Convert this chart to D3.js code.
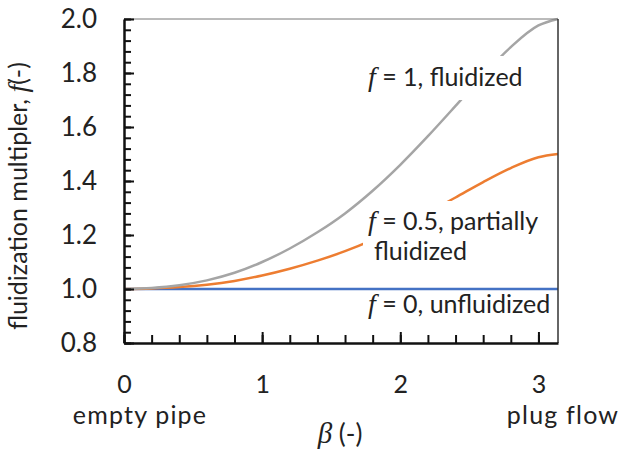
<!DOCTYPE html>
<html lang="en">
<head>
<meta charset="UTF-8">
<title>fluidization multiplier</title>
<script src="https://d3js.org/d3.v7.min.js"></script>
<style>
  body { margin: 0; background: #fff; }
  text { font-family: Lato, "Open Sans", sans-serif; fill: #222; }
</style>
</head>
<body>
<svg id="chart" width="619" height="451"></svg>
<script>
// values
const beta = [0, 0.2, 0.4, 0.6, 0.8, 1.0, 1.2, 1.4, 1.6, 1.8, 2.0, 2.2, 2.4, 2.6, 2.8, 3.0, 3.1416];
const fluidized = [1.0, 1.004, 1.014, 1.032, 1.060, 1.100, 1.150, 1.210, 1.280, 1.364, 1.460, 1.566, 1.678, 1.792, 1.896, 1.976, 2.0];
const partial = [1.0, 1.002, 1.007, 1.016, 1.030, 1.050, 1.075, 1.105, 1.140, 1.182, 1.230, 1.283, 1.339, 1.396, 1.448, 1.488, 1.5];
const unfluidized = [1, 1, 1, 1, 1, 1, 1, 1, 1, 1, 1, 1, 1, 1, 1, 1, 1];
const xTicks = [0, 1, 2, 3];
const yTicks = [0.8, 1.0, 1.2, 1.4, 1.6, 1.8, 2.0];

const svg = d3.select("#chart");
const plot = { left: 124, right: 558, top: 19, bottom: 343 };

const x = d3.scaleLinear().domain([0, Math.PI]).range([plot.left, plot.right]);
const y = d3.scaleLinear().domain([0.8, 2.0]).range([plot.bottom, plot.top]);

const line = v => d3.line()
    .x((d, i) => x(beta[i]))
    .y(d => y(d))
    .curve(d3.curveMonotoneX)(v);

// lines
svg.append("path").attr("d", line(unfluidized))
    .attr("fill", "none").attr("stroke", "#4472c4").attr("stroke-width", 2.5);
svg.append("path").attr("d", line(partial))
    .attr("fill", "none").attr("stroke", "#ed7d31").attr("stroke-width", 2.5);
svg.append("path").attr("d", line(fluidized))
    .attr("fill", "none").attr("stroke", "#a5a5a5").attr("stroke-width", 2.5);

// label boxes hide the lines under the text
svg.append("rect").attr("x", 362).attr("y", 56).attr("width", 168).attr("height", 44).attr("fill", "#fff");
svg.append("rect").attr("x", 363).attr("y", 201).attr("width", 186).attr("height", 72).attr("fill", "#fff");

function label(xp, yp, fText, rest) {
    const t = svg.append("text").attr("x", xp).attr("y", yp).style("font-size", "25px");
    if (fText) {
        t.append("tspan").text("f")
            .style("font-family", "'Liberation Serif', serif").style("font-style", "italic")
            .style("font-size", "28px");
    }
    t.append("tspan").text(rest);
}
label(368, 86, true, " = 1, fluidized");
label(368, 230, true, " = 0.5, partially");
label(374, 260, false, "fluidized");
label(368, 313, true, " = 0, unfluidized");

// frame
svg.append("line").attr("x1", plot.left).attr("x2", plot.right)
    .attr("y1", plot.top).attr("y2", plot.top)
    .attr("stroke", "#777").attr("stroke-width", 1);
svg.append("line").attr("x1", plot.right).attr("x2", plot.right)
    .attr("y1", plot.top).attr("y2", plot.bottom)
    .attr("stroke", "#333").attr("stroke-width", 1.5);

// x axis
const xMinor = d3.range(0, 3.01, 0.2);
svg.append("g").attr("transform", `translate(0,${plot.bottom})`)
    .call(d3.axisBottom(x).tickValues(xMinor).tickSize(-8).tickFormat(""))
    .call(g => g.select(".domain").remove())
    .call(g => g.selectAll("line").attr("stroke", "#111").attr("stroke-width", 2));
const xAxis = svg.append("g").attr("transform", `translate(0,${plot.bottom})`)
    .call(d3.axisBottom(x).tickValues(xTicks).tickSize(-11).tickSizeOuter(0).tickPadding(32).tickFormat(d3.format("d")));
xAxis.select(".domain").attr("stroke", "#111").attr("stroke-width", 2.5);
xAxis.selectAll("line").attr("stroke", "#111").attr("stroke-width", 2);
xAxis.selectAll("text").style("font-size", "25px").style("font-family", "Lato, sans-serif").attr("fill", "#222");

// y axis
const yMinor = d3.range(0.8, 2.001, 0.04);
svg.append("g").attr("transform", `translate(${plot.left},0)`)
    .call(d3.axisLeft(y).tickValues(yMinor).tickSize(-7).tickFormat(""))
    .call(g => g.select(".domain").remove())
    .call(g => g.selectAll("line").attr("stroke", "#111").attr("stroke-width", 2));
const yAxis = svg.append("g").attr("transform", `translate(${plot.left},0)`)
    .call(d3.axisLeft(y).tickValues(yTicks).tickSize(-10).tickSizeOuter(0).tickPadding(27).tickFormat(d3.format(".1f")));
yAxis.select(".domain").attr("stroke", "#111").attr("stroke-width", 2.5);
yAxis.selectAll("line").attr("stroke", "#111").attr("stroke-width", 2);
yAxis.selectAll("text").style("font-size", "26px").style("font-family", "Lato, sans-serif").attr("fill", "#222");

// axis titles
svg.append("text").attr("x", 140).attr("y", 424).attr("text-anchor", "middle")
    .style("font-size", "25px").style("letter-spacing", "1.2px").text("empty pipe");
svg.append("text").attr("x", 563).attr("y", 424).attr("text-anchor", "middle")
    .style("font-size", "25px").style("letter-spacing", "1.2px").text("plug flow");

const bt = svg.append("text").attr("x", 340).attr("y", 443).attr("text-anchor", "middle").style("font-size", "26px");
bt.append("tspan").text("β").style("font-family", "'Liberation Serif', serif").style("font-style", "italic").style("font-size", "29px");
bt.append("tspan").text(" (-)");

const yt = svg.append("text").attr("transform", "translate(27,196) rotate(-90)")
    .attr("text-anchor", "middle").style("font-size", "25px");
yt.append("tspan").text("fluidization multipler, ");
yt.append("tspan").text("f").style("font-family", "'Liberation Serif', serif").style("font-style", "italic").style("font-size", "28px");
yt.append("tspan").text("(-)");
</script>
</body>
</html>
